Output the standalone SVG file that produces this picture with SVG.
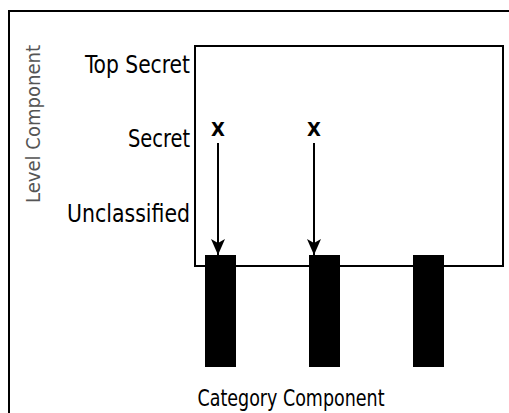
<svg xmlns="http://www.w3.org/2000/svg" width="509" height="413" viewBox="0 0 509 413">
<style>
.lbl{font-family:"DejaVu Sans Condensed","DejaVu Sans","Liberation Sans",sans-serif;fill:#000}
.frame{fill:none;stroke:#000;stroke-width:2}
.bar{fill:#000}
.conn{stroke:#000;stroke-width:2;fill:none}
</style>
<defs>
<marker id="ah" viewBox="0 0 16 14" refX="16" refY="7" markerWidth="16" markerHeight="14" markerUnits="userSpaceOnUse" orient="auto">
<path d="M0,0 L16,7 L0,14 L4,7 Z" fill="#000"/>
</marker>
</defs>
<rect width="509" height="413" fill="#fff"/>
<g id="outer-frame"><path class="frame" d="M9,420 V11 H515"/></g>
<g id="level-label"><text class="lbl" transform="translate(40,203) rotate(-90)" font-size="19" style="fill:#555" textLength="158" lengthAdjust="spacingAndGlyphs">Level Component</text></g>
<g id="grid"><rect class="frame" x="195" y="46" width="308" height="220"/></g>
<g id="levels">
<text class="lbl" x="190" y="73" font-size="24" text-anchor="end" textLength="105" lengthAdjust="spacingAndGlyphs">Top Secret</text>
<text class="lbl" x="190" y="147" font-size="24" text-anchor="end" textLength="62" lengthAdjust="spacingAndGlyphs">Secret</text>
<text class="lbl" x="190" y="222" font-size="24" text-anchor="end" textLength="123" lengthAdjust="spacingAndGlyphs">Unclassified</text>
</g>
<g id="bar1"><rect class="bar" x="205" y="255" width="31" height="112"/></g>
<g id="bar2"><rect class="bar" x="309" y="255" width="31" height="112"/></g>
<g id="bar3"><rect class="bar" x="413" y="255" width="31" height="112"/></g>
<g id="x1"><text class="lbl" x="218" y="136" font-size="20" font-weight="bold" text-anchor="middle">X</text></g>
<g id="x2"><text class="lbl" x="314" y="136" font-size="20" font-weight="bold" text-anchor="middle">X</text></g>
<g id="connectors">
<line class="conn" x1="218" y1="143" x2="218" y2="255" marker-end="url(#ah)"/>
<line class="conn" x1="314" y1="143" x2="314" y2="255" marker-end="url(#ah)"/>
</g>
<g id="category-label"><text class="lbl" x="291" y="406" font-size="23" text-anchor="middle" textLength="187" lengthAdjust="spacingAndGlyphs">Category Component</text></g>
</svg>
